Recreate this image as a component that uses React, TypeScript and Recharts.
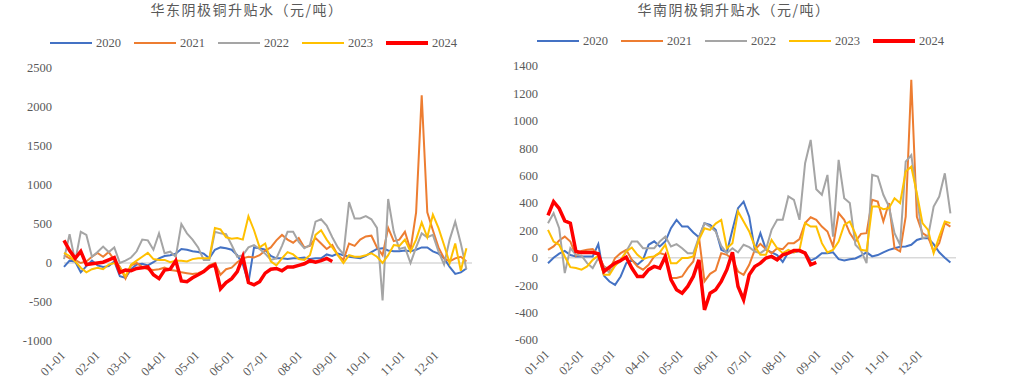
import { LineChart, Line, XAxis, YAxis, ReferenceLine } from 'recharts';

// x grid: day of year, every 5 days
const days = Array.from({ length: 73 }, (_, i) => i * 5);
const monthTicks = [0, 31, 59, 90, 120, 151, 181, 212, 243, 273, 304, 334];
const monthLabels = ['01-01', '02-01', '03-01', '04-01', '05-01', '06-01', '07-01', '08-01', '09-01', '10-01', '11-01', '12-01'];
const years = ['2020', '2021', '2022', '2023', '2024'];
const colors = ['#4472C4', '#ED7D31', '#A5A5A5', '#FFC000', '#FF0000'];

const eastTicks = [-1000, -500, 0, 500, 1000, 1500, 2000, 2500];
const southTicks = [-600, -400, -200, 0, 200, 400, 600, 800, 1000, 1200, 1400];

const tail = Array(23).fill(null);

// 华东
const east2020 = [
  -50, 30, 20, -120, -40, 30, -30, -50, -40, 20,
  -170, -190, -80, -20, -10, -30, 10, 60, 90, 100,
  120, 180, 170, 150, 140, 120, 60, 170, 200, 190,
  170, 100, -20, -250, 200, 190, 170, 90, 60, 60,
  50, 60, 60, 70, 50, 60, 60, 110, 90, 120,
  100, 80, 70, 60, 90, 140, 180, 190, 160, 150,
  150, 160, 150, 170, 200, 200, 150, 120, 60, -50,
  -140, -120, -70,
];
const east2021 = [
  100, 60, 40, 0, 20, 80, 130, 80, 140, 40,
  -50, -200, -30, 0, -50, -80, -90, -80, -60, -90,
  -100, -120, -130, -140, -130, -100, -30, 0, -150, -80,
  -60, 10, 60, 80, 70, 100, 160, 200, 290, 360,
  300, 260, 320, 200, 220, 320, 250, 180, 230, 100,
  40, 250, 220, 300, 340, 350, 200, 100, 450, 280,
  300, 400, 170, 650, 2150, 650, 420, 200, 60, 20,
  60, 80, 20,
];
const east2022 = [
  50, 370, 20, 400, 360, 80, 140, 210, 140, 200,
  0, 30, 70, 150, 300, 290, 170, 380, 125, 145,
  80, 500, 380, 300, 200, 40, 40, 400, 380, 370,
  230, 80, 100, 200, 230, 180, 120, 40, 60, 220,
  400, 400, 270, 190, 230, 530, 560, 480, 330, 200,
  110, 780, 570, 570, 600, 560, 450, -480, 820, 400,
  180, 200, 0, 200, 380, 330, 360, 150, -20, 300,
  530, 250, -80,
];
const east2023 = [
  130, 90, 20, -60, -120, -80, -60, -80, -20, 0,
  -60, -170, -20, 30, 80, 130, 50, 40, 40, 10,
  30, 30, 20, 50, 60, 60, 60, 450, 430, 330,
  310, 320, 300, 600, 420, 200, 250, 20, -30, 60,
  140, 110, 50, 40, 100, 360, 420, 300, 200, 100,
  0, 100, 80, 80, 100, 125, 80, 0, 100, 230,
  220, 300, 145, 300, 520, 330, 620, 450, 230, 0,
  250, -100, 190,
];
const east2024 = [
  290, 160, 60, 150, -20, -10, 0, 10, 40, 70,
  -120, -90, -100, -70, -60, -50, -150, -200, -90, -80,
  30, -230, -240, -190, -150, -110, -50, -20, -330, -250,
  -200, -110, 80, -250, -280, -240, -130, -80, -70, -100,
  -50, -50, -30, -10, 30, 10, 30, 60, 20, null,
  ...tail,
];

// 华南
const south2020 = [
  -40, 0, 30, 50, 20, 10, 10, 10, 10, 100,
  -130, -173, -197, -136, -39, -15, -50, -15, 95, 120,
  83, 120, 216, 277, 228, 228, 185, 150, 253, 240,
  204, 58, 40, 204, 362, 410, 300, 58, 180, 60,
  40, 20, -30, 40, 40, 50, 40, -20, 0, 34,
  34, 40, -10, -20, -10, -5, 15, 40, 10, 20,
  40, 58, 70, 80, 83, 95, 130, 143, 143, 100,
  40, 0, -35,
];
const south2021 = [
  58, 83, 126, 155, 119, 15, 51, 58, 63, 22,
  -63, -87, -2, 34, 58, -15, -63, -87, -51, 10,
  34, 22, -148, -148, -136, -75, -27, 155, -172, -117,
  -92, 34, 22, -10, -100, -124, -51, 58, 102, 63,
  34, 70, 63, 107, 107, 136, 253, 296, 277, 228,
  192, 83, 326, 277, 180, 119, 175, 180, 423, 410,
  265, 400, 70, 46, 300, 1300, 300, 180, 155, 46,
  107, 253, 228,
];
const south2022 = [
  253, 326, 216, -112, 70, 22, 15, -39, -75, -2,
  -63, -112, -51, -27, 46, 119, 119, 70, 70, 70,
  119, 155, 83, 100, 70, 34, 34, 150, 253, 228,
  192, 87, 34, 70, 39, 95, 78, 46, 34, 63,
  204, 277, 277, 448, 423, 277, 690, 860, 500, 460,
  605, 155, 715, 435, 400, 95, 53, -39, 605, 593,
  460, 374, 180, 95, 702, 750, 447, 143, 155, 374,
  447, 617, 325,
];
const south2023 = [
  204, 119, 95, 10, -68, -75, -87, -63, -15, 15,
  -124, -124, -58, -15, 46, 75, 22, -10, 5, 10,
  39, 95, -40, -39, -2, -2, 10, 131, 216, 204,
  250, 277, 70, 107, 338, 265, 192, 83, 22, 22,
  131, 70, 34, 58, 39, 58, 253, 228, 228, 107,
  39, 58, 119, 240, 265, 175, 58, 51, 374, 374,
  355, 362, 435, 400, 630, 665, 470, 253, 204, 34,
  155, 265, 253,
];
const south2024 = [
  310, 410, 360, 270, 253, 46, 39, 39, 39, 29,
  -100, -68, -39, -20, 5, -75, -136, -136, -87, -63,
  -75, 10, -160, -233, -258, -209, -136, -15, -380, -258,
  -233, -172, -87, 40, -209, -306, -124, -63, -39, -2,
  10, -15, 22, 34, 53, 53, 34, -51, -34, null,
  ...tail,
];

const buildRows = (series: (number | null)[][]) =>
  days.map((d, i) => {
    const row: Record<string, number | null> = { day: d };
    years.forEach((y, k) => {
      row[y] = series[k][i];
    });
    return row;
  });

const eastData = buildRows([east2020, east2021, east2022, east2023, east2024]);
const southData = buildRows([south2020, south2021, south2022, south2023, south2024]);

const textColor = '#595959';
const serif = "'Liberation Serif', 'DejaVu Serif', serif";

function MonthTick(props: any) {
  const { x, y, payload } = props;
  const idx = monthTicks.indexOf(payload.value);
  return (
    <g transform={`translate(${x - 1},${y + 4})`}>
      <text
        transform="rotate(-45)"
        textAnchor="end"
        dy="0.35em"
        fill={textColor}
        fontSize={12.5}
        fontFamily={serif}
      >
        {monthLabels[idx]}
      </text>
    </g>
  );
}

function LegendRow({ left, top }: { left: number; top: number }) {
  return (
    <div style={{ position: 'absolute', left, top, display: 'flex', height: 14 }}>
      {years.map((y, k) => (
        <div key={y} style={{ display: 'flex', alignItems: 'center', width: 84 }}>
          <div
            style={{
              width: 42,
              height: k === 4 ? 4 : 2.5,
              background: colors[k],
              marginRight: 4,
            }}
          />
          <span style={{ fontFamily: serif, fontSize: 12.5, color: textColor, lineHeight: '14px' }}>{y}</span>
        </div>
      ))}
    </div>
  );
}

type PanelProps = {
  title: string;
  data: Record<string, number | null>[];
  domain: [number, number];
  ticks: number[];
  margin: { top: number; right: number; left: number; bottom: number };
  yWidth: number;
  xHeight: number;
  tickMargin: number;
  titleCenter: number;
  titleTop: number;
  legendLeft: number;
  legendTop: number;
};

function Panel(p: PanelProps) {
  return (
    <div style={{ position: 'relative', width: 505, height: 388, overflow: 'hidden' }}>
      <div
        style={{
          position: 'absolute',
          left: p.titleCenter - 150,
          width: 300,
          top: p.titleTop,
          textAlign: 'center',
          fontFamily: "'Noto Sans CJK SC', sans-serif",
          fontSize: 14,
          lineHeight: '14px',
          color: textColor,
          letterSpacing: 1.5,
        }}
      >
        {p.title}
      </div>
      <LegendRow left={p.legendLeft} top={p.legendTop} />
      <LineChart width={505} height={388} data={p.data} margin={p.margin}>
        <ReferenceLine y={0} stroke="#d9d9d9" strokeWidth={1.5} />
        <XAxis
          dataKey="day"
          type="number"
          domain={[0, 365]}
          ticks={monthTicks}
          interval={0}
          axisLine={false}
          tickLine={false}
          height={p.xHeight}
          tick={<MonthTick />}
        />
        <YAxis
          domain={p.domain}
          ticks={p.ticks}
          interval={0}
          axisLine={false}
          tickLine={false}
          width={p.yWidth}
          tickMargin={p.tickMargin}
          tick={{ fill: textColor, fontSize: 12.5, fontFamily: serif }}
        />
        {years.map((y, k) => (
          <Line
            key={y}
            dataKey={y}
            type="linear"
            stroke={colors[k]}
            strokeWidth={k === 4 ? 3.5 : 2}
            dot={false}
            isAnimationActive={false}
          />
        ))}
      </LineChart>
    </div>
  );
}

export default function App() {
  return (
    <div style={{ position: 'absolute', left: 0, top: 0, width: 1010, height: 388, background: '#fff', display: 'flex' }}>
      <Panel
        title="华东阴极铜升贴水（元/吨）"
        data={eastData}
        domain={[-1000, 2500]}
        ticks={eastTicks}
        margin={{ top: 68, right: 33, left: 0, bottom: 0 }}
        yWidth={64}
        xHeight={47}
        tickMargin={6}
        titleCenter={247}
        titleTop={2}
        legendLeft={50}
        legendTop={36}
      />
      <Panel
        title="华南阴极铜升贴水（元/吨）"
        data={southData}
        domain={[-600, 1400]}
        ticks={southTicks}
        margin={{ top: 66, right: 54, left: 0, bottom: 0 }}
        yWidth={43}
        xHeight={48}
        tickMargin={4}
        titleCenter={229}
        titleTop={2}
        legendLeft={32}
        legendTop={34}
      />
    </div>
  );
}
